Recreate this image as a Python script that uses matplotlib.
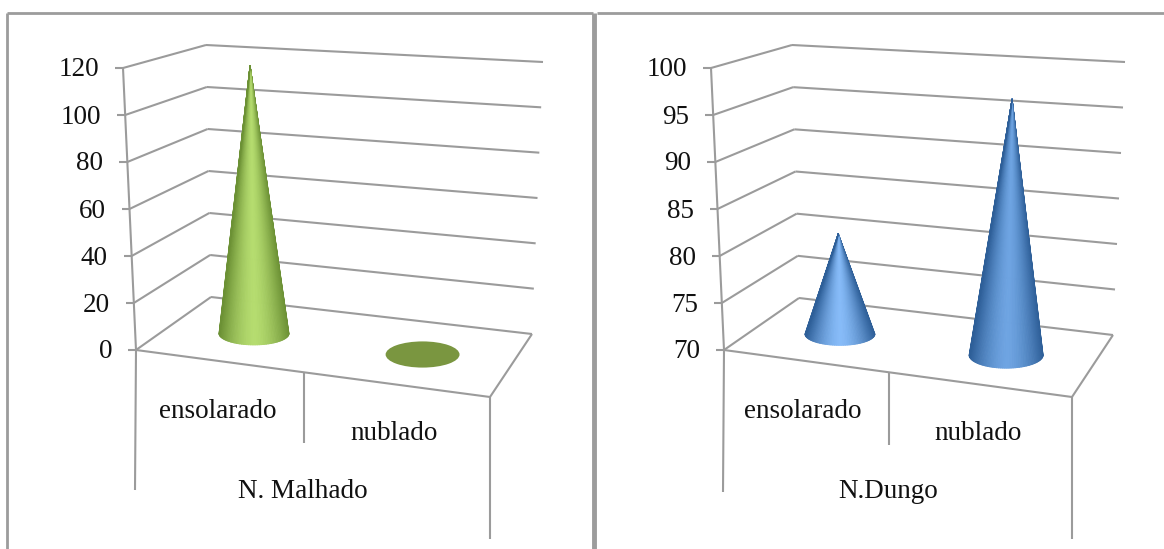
import numpy as np
import matplotlib
matplotlib.use("Agg")
import matplotlib.pyplot as plt
from matplotlib.collections import PolyCollection
from matplotlib.colors import to_rgb
from matplotlib.patches import Ellipse

categories = ['ensolarado', 'nublado']
malhado_values = [118, 0]
dungo_values = [81, 97]
malhado_ticks = [0, 20, 40, 60, 80, 100, 120]
dungo_ticks = [70, 75, 80, 85, 90, 95, 100]

GRID = '#9b9b9b'
FRAME = '#9c9c9c'
TEXT = '#111111'
plt.rcParams['font.family'] = ['Liberation Serif', 'DejaVu Serif']


def mix(a, b, t):
    return np.asarray(a, float) * (1 - t) + np.asarray(b, float) * t


class Box:
    # the 3d box of the chart, corners in picture pixels
    def __init__(self, fl, bl, br, fr, top_fl, top_bl, top_br, top_fr, vmin, vmax):
        self.floor = (fl, bl, br, fr)
        self.top = (top_fl, top_bl, top_br, top_fr)
        self.vmin = vmin
        self.vmax = vmax

    def point(self, u, v, value):
        # u along the categories, v is depth (0 front, 1 back)
        w = (value - self.vmin) / (self.vmax - self.vmin)
        fl, bl, br, fr = self.floor
        low = mix(mix(fl, fr, u), mix(bl, br, u), v)
        fl, bl, br, fr = self.top
        high = mix(mix(fl, fr, u), mix(bl, br, u), v)
        return mix(low, high, w)


def line(ax, a, b, color=GRID, lw=1.5):
    ax.plot([a[0], b[0]], [a[1], b[1]], color=color, lw=lw, solid_capstyle='butt', zorder=1)


def draw_cone(ax, box, u, value, edge, middle, disc):
    base = box.point(u, 0.5, box.vmin)
    rx = 34 + 4 * u
    ry = 10.5 + 3.5 * u
    if value <= box.vmin:
        ax.add_patch(Ellipse(base, 2 * rx, 2 * ry, facecolor=disc, edgecolor='none', zorder=3))
        return
    apex = box.point(u, 0.5, value)
    theta = np.linspace(0, np.pi, 61)
    polys = []
    colors = []
    for t0, t1 in zip(theta[:-1], theta[1:]):
        p0 = base + [rx * np.cos(t0), ry * np.sin(t0)]
        p1 = base + [rx * np.cos(t1), ry * np.sin(t1)]
        polys.append([apex, p0, p1])
        shade = 1 - abs(np.cos((t0 + t1) / 2)) ** 1.6
        colors.append(mix(to_rgb(edge), to_rgb(middle), shade))
    ax.add_collection(PolyCollection(polys, facecolors=colors, edgecolors=colors, linewidths=0.7, zorder=3))


def draw_panel(ax, box, ticks, values, us, edge, middles, disc, group, cat_pos, group_pos,
               mid_line, front_drop, right_drop):
    for tick in ticks:
        front = box.point(0, 0, tick)
        back = box.point(0, 1, tick)
        right = box.point(1, 1, tick)
        line(ax, front, back)
        line(ax, back, right)
        line(ax, front - [8, 0], front)
        ax.text(front[0] - 24, front[1] + 2, str(tick), ha='right', va='center', fontsize=19.5, color=TEXT)
    # axis
    line(ax, box.point(0, 0, ticks[0]), box.point(0, 0, ticks[-1]))
    # floor
    fl = box.point(0, 0, ticks[0])
    fr = box.point(1, 0, ticks[0])
    br = box.point(1, 1, ticks[0])
    line(ax, fl, fr)
    line(ax, fr, br)
    # category dividers
    line(ax, fl, [fl[0] - 1, front_drop])
    line(ax, fr, [fr[0], right_drop])
    top = mix(fl, fr, 0.475)
    line(ax, top, [top[0], mid_line])

    for u, value, middle in zip(us, values, middles):
        draw_cone(ax, box, u, value, edge, middle, disc)

    for name, pos in zip(categories, cat_pos):
        ax.text(pos[0], pos[1] + 1, name, ha='center', va='center', fontsize=19.5, color=TEXT)
    ax.text(group_pos[0], group_pos[1] + 1, group, ha='center', va='center', fontsize=19.5, color=TEXT)


fig = plt.figure(figsize=(11.64, 5.49), dpi=100)
ax = fig.add_axes([0, 0, 1, 1])
ax.set_xlim(0, 1164)
ax.set_ylim(549, 0)
ax.axis('off')

# panel frames
line(ax, [7, 549], [7, 13], FRAME, 2)
line(ax, [7, 13], [593, 13], FRAME, 2)
line(ax, [594, 549], [594, 13], FRAME, 3.5)
line(ax, [597, 13], [1164, 13], FRAME, 2)

left_box = Box((136, 350), (211, 297), (532, 334), (490, 397),
               (123, 68), (206, 45), (543, 62), (503, 90),
               malhado_ticks[0], malhado_ticks[-1])
right_box = Box((724, 350), (799, 298), (1113, 335), (1072, 397),
                (711, 68), (792, 45), (1125, 62), (1085, 90),
                dungo_ticks[0], dungo_ticks[-1])

draw_panel(ax, left_box, malhado_ticks, malhado_values, [0.2385, 0.738],
           '#6c9135', ['#b5dc6f', '#b5dc6f'], '#7a9640', 'N. Malhado',
           [(218, 410), (394, 432)], (303, 491), 443, 490, 539)
draw_panel(ax, right_box, dungo_ticks, dungo_values, [0.237, 0.739],
           '#2e5f98', ['#86bbf8', '#6ea4e2'], '#2e5f98', 'N.Dungo',
           [(803, 410), (978, 432)], (888, 490), 445, 492, 539)

fig.savefig('out.png', dpi=100)
